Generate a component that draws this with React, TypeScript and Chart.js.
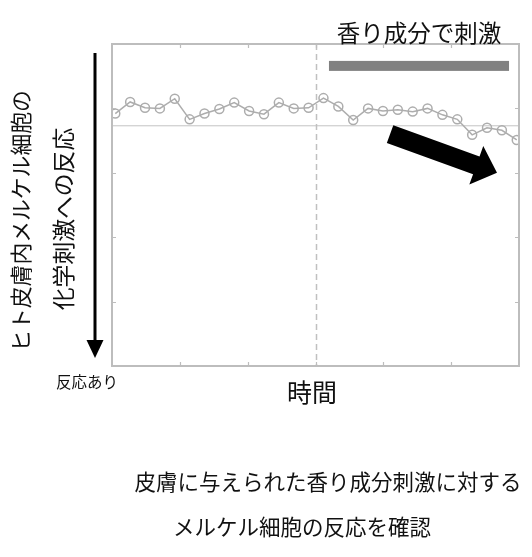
import React, { useEffect, useRef } from "react";
import { Chart, registerables } from "chart.js";

Chart.register(...registerables);

// ---- data ----
const RESPONSE = [
  3.92, 4.1, 4.01, 4.0, 4.15, 3.83, 3.92, 3.99, 4.09, 3.96, 3.91, 4.09, 4.0, 4.01,
  4.16, 4.03, 3.82, 4.0, 3.96, 3.98, 3.95, 4.0, 3.9, 3.83, 3.59, 3.7, 3.66, 3.51,
];
const BASELINE = 3.73;
const STIM_ONSET = 13.5; // dashed line (time index)
const STIM_BAR_START = 14.37;
const STIM_BAR_END = 26.48;
const STIM_BAR_Y = 4.66;
const X_MIN = -0.22;
const X_MAX = 27.15;
const Y_TICKS = [0, 1, 2, 3, 4, 5];
const X_TICK_COUNT = 6;
const TREND_FROM = { x: 18.48, y: 3.6 };
const TREND_TO = { x: 25.67, y: 3.0 };

const TITLE_STIM = "香り成分で刺激";
const Y_TITLE = ["ヒト皮膚内メルケル細胞の", "化学刺激への反応"];
const Y_ARROW_LABEL = "反応あり";
const X_TITLE = "時間";
const CAPTION = ["皮膚に与えられた香り成分刺激に対する", "メルケル細胞の反応を確認"];

const FONT = '"Noto Sans CJK JP", "Noto Sans", sans-serif';

const decorPlugin = {
  id: "decor",
  beforeDatasetsDraw(chart: any) {
    const { ctx, chartArea: a, scales } = chart;
    const xs = scales.x;
    const ys = scales.y;
    ctx.save();
    const by = ys.getPixelForValue(BASELINE);
    ctx.strokeStyle = "#c4c4c4";
    ctx.lineWidth = 1;
    ctx.beginPath();
    ctx.moveTo(a.left, by);
    ctx.lineTo(a.right, by);
    ctx.stroke();
    const dx = Math.round(xs.getPixelForValue(STIM_ONSET)) + 0.5;
    ctx.strokeStyle = "#c0c0c0";
    ctx.lineWidth = 1.5;
    ctx.setLineDash([6, 4]);
    ctx.beginPath();
    ctx.moveTo(dx, a.top);
    ctx.lineTo(dx, a.bottom);
    ctx.stroke();
    ctx.setLineDash([]);
    const x1 = xs.getPixelForValue(STIM_BAR_START);
    const x2 = xs.getPixelForValue(STIM_BAR_END);
    const yb = ys.getPixelForValue(STIM_BAR_Y);
    ctx.fillStyle = "#808080";
    ctx.fillRect(x1, yb - 5, x2 - x1, 10);
    ctx.restore();
  },
  afterDatasetsDraw(chart: any) {
    const { ctx, chartArea: a, scales } = chart;
    const xs = scales.x;
    const ys = scales.y;
    ctx.save();
    ctx.strokeStyle = "#bdbdbd";
    ctx.lineWidth = 2;
    ctx.strokeRect(a.left, a.top, a.right - a.left, a.bottom - a.top);
    ctx.lineWidth = 1.2;
    const tl = 4;
    for (let k = 1; k < X_TICK_COUNT; k++) {
      const v = X_MIN + (k * (X_MAX - X_MIN)) / X_TICK_COUNT;
      const px = Math.round(xs.getPixelForValue(v)) + 0.5;
      ctx.beginPath();
      ctx.moveTo(px, a.bottom);
      ctx.lineTo(px, a.bottom - tl);
      ctx.moveTo(px, a.top);
      ctx.lineTo(px, a.top + tl);
      ctx.stroke();
    }
    for (const t of Y_TICKS.slice(1, -1)) {
      const py = Math.round(ys.getPixelForValue(t)) + 0.5;
      ctx.beginPath();
      ctx.moveTo(a.left, py);
      ctx.lineTo(a.left + tl, py);
      ctx.moveTo(a.right, py);
      ctx.lineTo(a.right - tl, py);
      ctx.stroke();
    }
    const sx = xs.getPixelForValue(TREND_FROM.x);
    const sy = ys.getPixelForValue(TREND_FROM.y);
    const ex = xs.getPixelForValue(TREND_TO.x);
    const ey = ys.getPixelForValue(TREND_TO.y);
    const len = Math.hypot(ex - sx, ey - sy);
    const ang = Math.atan2(ey - sy, ex - sx);
    const hw = 9.5;
    const hh = 20.5;
    const hl = 22;
    ctx.translate(sx, sy);
    ctx.rotate(ang);
    ctx.fillStyle = "#000";
    ctx.beginPath();
    ctx.moveTo(0, -hw);
    ctx.lineTo(len - hl, -hw);
    ctx.lineTo(len - hl, -hh);
    ctx.lineTo(len, 0);
    ctx.lineTo(len - hl, hh);
    ctx.lineTo(len - hl, hw);
    ctx.lineTo(0, hw);
    ctx.closePath();
    ctx.fill();
    ctx.setTransform(1, 0, 0, 1, 0, 0);
    ctx.restore();

    ctx.save();
    ctx.fillStyle = "#111";
    ctx.textAlign = "center";
    ctx.textBaseline = "middle";
    ctx.font = `23.5px ${FONT}`;
    ctx.fillText(TITLE_STIM, 419, 33);
    ctx.font = `25px ${FONT}`;
    ctx.fillText(X_TITLE, 312, 392);
    ctx.font = `15.5px ${FONT}`;
    ctx.fillText(Y_ARROW_LABEL, 87, 382);
    ctx.font = `21.5px ${FONT}`;
    ctx.fillText(CAPTION[0], 328, 482);
    ctx.fillText(CAPTION[1], 302, 527);
    ctx.font = `21.8px ${FONT}`;
    ctx.save();
    ctx.translate(21, 221);
    ctx.rotate(-Math.PI / 2);
    ctx.fillText(Y_TITLE[0], 0, 0);
    ctx.restore();
    ctx.font = `22.8px ${FONT}`;
    ctx.save();
    ctx.translate(63, 219);
    ctx.rotate(-Math.PI / 2);
    ctx.fillText(Y_TITLE[1], 0, 0);
    ctx.restore();
    ctx.strokeStyle = "#000";
    ctx.fillStyle = "#000";
    ctx.lineWidth = 3;
    ctx.beginPath();
    ctx.moveTo(95, 53);
    ctx.lineTo(95, 342);
    ctx.stroke();
    ctx.beginPath();
    ctx.moveTo(86.5, 340);
    ctx.lineTo(103.5, 340);
    ctx.lineTo(95, 358);
    ctx.closePath();
    ctx.fill();
    ctx.restore();
  },
};

export default function App() {
  const ref = useRef<HTMLCanvasElement | null>(null);
  useEffect(() => {
    if (!ref.current) return;
    const chart = new Chart(ref.current, {
      type: "line",
      data: {
        datasets: [
          {
            data: RESPONSE.map((v, i) => ({ x: i, y: v })),
            borderColor: "#adadad",
            borderWidth: 1.5,
            pointRadius: 4.5,
            pointBorderWidth: 1.5,
            pointBorderColor: "#adadad",
            pointBackgroundColor: "rgba(255,255,255,0)",
            tension: 0,
          },
        ],
      },
      options: {
        animation: false,
        responsive: false,
        devicePixelRatio: 1,
        layout: { padding: { left: 112, top: 44, right: 13, bottom: 191 } },
        plugins: { legend: { display: false }, tooltip: { enabled: false } },
        scales: {
          x: { type: "linear", min: X_MIN, max: X_MAX, display: false },
          y: { type: "linear", min: Y_TICKS[0], max: Y_TICKS[Y_TICKS.length - 1], display: false },
        },
      },
      plugins: [decorPlugin],
    });
    return () => chart.destroy();
  }, []);
  return (
    <div style={{ position: "fixed", left: 0, top: 0, width: 532, height: 557, background: "#fff" }}>
      <canvas ref={ref} width={532} height={557} style={{ display: "block" }} />
    </div>
  );
}
